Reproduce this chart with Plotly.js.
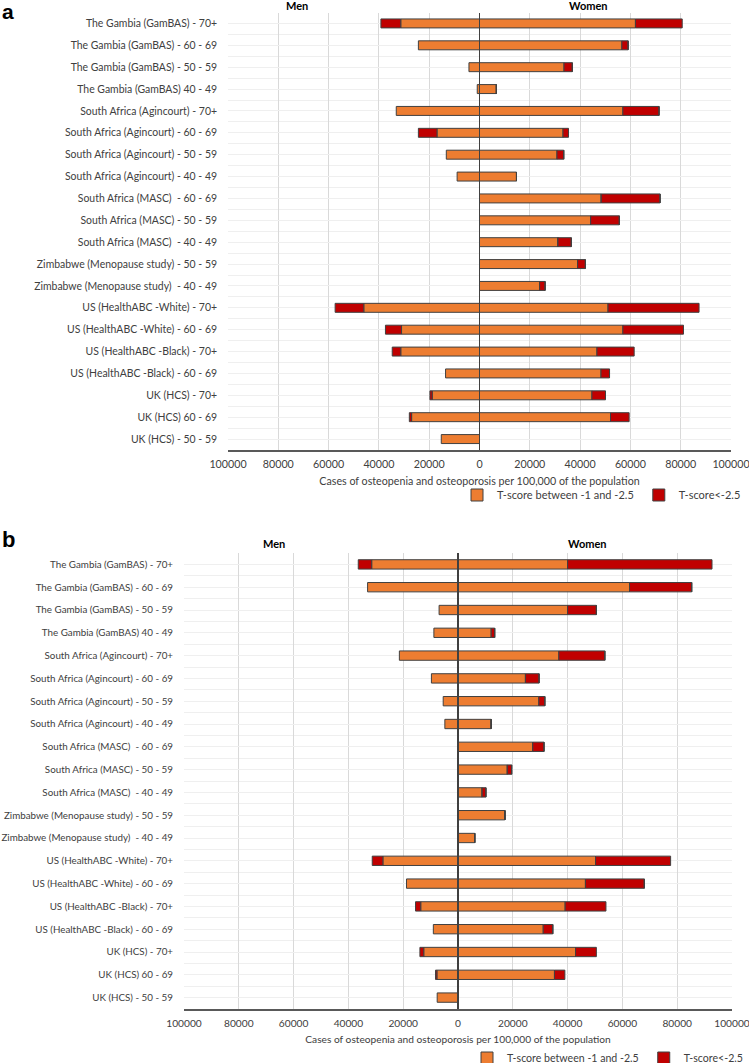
<!DOCTYPE html>
<html>
<head>
<meta charset="utf-8">
<script src="https://cdn.plot.ly/plotly-3.0.1.min.js"></script>
<style>html,body{margin:0;padding:0;background:#fff;}#chart{width:749px;height:1063px;}</style>
</head>
<body>
<div id="chart"></div>
<script>
// Categories (top to bottom)
const categories = [
  "The Gambia (GamBAS) - 70+",
  "The Gambia (GamBAS) - 60 - 69",
  "The Gambia (GamBAS) - 50 - 59",
  "The Gambia (GamBAS) 40 - 49",
  "South Africa (Agincourt) - 70+",
  "South Africa (Agincourt) - 60 - 69",
  "South Africa (Agincourt) - 50 - 59",
  "South Africa (Agincourt) - 40 - 49",
  "South Africa (MASC)  - 60 - 69",
  "South Africa (MASC) - 50 - 59",
  "South Africa (MASC)  - 40 - 49",
  "Zimbabwe (Menopause study) - 50 - 59",
  "Zimbabwe (Menopause study)  - 40 - 49",
  "US (HealthABC -White) - 70+",
  "US (HealthABC -White) - 60 - 69",
  "US (HealthABC -Black) - 70+",
  "US (HealthABC -Black) - 60 - 69",
  "UK (HCS) - 70+",
  "UK (HCS) 60 - 69",
  "UK (HCS) - 50 - 59"
];
const seriesNames = ["T-score between -1 and -2.5", "T-score<-2.5"];
const xTickValues = [-100000, -80000, -60000, -40000, -20000, 0, 20000, 40000, 60000, 80000, 100000];
const xTickLabels = ["100000", "80000", "60000", "40000", "20000", "0", "20000", "40000", "60000", "80000", "100000"];

// Panel a: cases per 100,000
const a_menOsteopenia   = [31300, 24300, 4200, 900, 33100, 16900, 13200, 8900, 0, 0, 0, 0, 0, 46000, 31000, 31300, 13500, 18800, 27000, 15200];
const a_menOsteoporosis = [7900, 0, 0, 0, 0, 7400, 0, 0, 0, 0, 0, 0, 0, 11400, 6400, 3400, 0, 900, 900, 0];
const a_womenOsteopenia   = [62000, 56600, 33600, 6700, 57000, 33200, 30800, 14700, 48400, 44200, 31200, 39000, 23900, 51100, 57000, 46700, 48300, 44700, 52100, 0];
const a_womenOsteoporosis = [18600, 2500, 3300, 0, 14400, 2200, 2700, 0, 23400, 11400, 5300, 3100, 2200, 36200, 24100, 14800, 3400, 5400, 7400, 0];

// Panel b: cases per 100,000
const b_menOsteopenia   = [31500, 33000, 6900, 8800, 21400, 9700, 5400, 4800, 0, 0, 0, 0, 0, 27400, 18800, 13600, 9000, 12500, 7700, 7600];
const b_menOsteoporosis = [4900, 0, 0, 0, 0, 0, 0, 0, 0, 0, 0, 0, 0, 3900, 0, 1900, 0, 1400, 500, 0];
const b_womenOsteopenia   = [40000, 62600, 40000, 12100, 36800, 24600, 29500, 12100, 27300, 18000, 8800, 17100, 6100, 50200, 46500, 39100, 31100, 42900, 35200, 0];
const b_womenOsteoporosis = [52700, 22700, 10500, 1300, 16800, 5000, 2200, 0, 4100, 1600, 1400, 0, 0, 27400, 21500, 14900, 3500, 7600, 3800, 0];

const yIdx = categories.map((c, i) => i);
const neg = arr => arr.map(v => -v);

const ORANGE = '#ED7D31', RED = '#C00000', OUTLINE = '#404040';
const FONT = 'Lato, "Open Sans", sans-serif';

function mk(x, name, color, xa, ya, legend, show) {
  return {
    type: 'bar', orientation: 'h', x: x, y: yIdx, name: name,
    xaxis: xa, yaxis: ya, legend: legend, showlegend: show,
    width: 0.41,
    marker: {color: color, line: {color: OUTLINE, width: 1}},
    hovertemplate: '%{y}: %{x}<extra>' + name + '</extra>'
  };
}

const traces = [
  mk(a_womenOsteopenia, seriesNames[0], ORANGE, 'x', 'y', 'legend', true),
  mk(neg(a_menOsteopenia), seriesNames[0], ORANGE, 'x', 'y', 'legend', false),
  mk(a_womenOsteoporosis, seriesNames[1], RED, 'x', 'y', 'legend', true),
  mk(neg(a_menOsteoporosis), seriesNames[1], RED, 'x', 'y', 'legend', false),
  mk(b_womenOsteopenia, seriesNames[0], ORANGE, 'x2', 'y2', 'legend2', true),
  mk(neg(b_menOsteopenia), seriesNames[0], ORANGE, 'x2', 'y2', 'legend2', false),
  mk(b_womenOsteoporosis, seriesNames[1], RED, 'x2', 'y2', 'legend2', true),
  mk(neg(b_menOsteoporosis), seriesNames[1], RED, 'x2', 'y2', 'legend2', false)
];

const W = 749, H = 1063;
function xaxis(domain, anchor, fs) {
  return {
    domain: domain, anchor: anchor, range: [-100000, 100000],
    tickmode: 'array', tickvals: xTickValues, ticktext: xTickLabels,
    showgrid: true, gridcolor: '#d9d9d9', gridwidth: 1,
    zeroline: true, zerolinecolor: '#404040', zerolinewidth: 1.5, zerolinelayer: 'above traces',
    showline: true, linecolor: '#595959', linewidth: 1.5, mirror: false,
    ticks: '', ticklabelstandoff: 4, ticklabeloverflow: 'allow', automargin: false,
    tickfont: {family: FONT, size: fs, color: '#404040'},
    title: {text: 'Cases of osteopenia and osteoporosis per 100,000 of the population',
            font: {family: FONT, size: fs, color: '#404040'}, standoff: 8},
    fixedrange: true
  };
}
function yaxis(domain, anchor, fs) {
  return {
    domain: domain, anchor: anchor, range: [19.5, -0.5],
    tickmode: 'array', tickvals: yIdx, ticktext: categories,
    showgrid: true, gridcolor: '#efefef', gridwidth: 1,
    minor: {showgrid: true, tick0: 0.5, dtick: 1, gridcolor: '#efefef', gridwidth: 1},
    zeroline: false, showline: false, ticks: '',
    ticklabelstandoff: 10, ticklabeloverflow: 'allow', automargin: false,
    tickfont: {family: FONT, size: fs, color: '#404040'},
    fixedrange: true
  };
}

const layout = {
  width: W, height: H,
  margin: {l: 0, r: 0, t: 0, b: 0, autoexpand: false},
  paper_bgcolor: '#fff', plot_bgcolor: '#fff',
  barmode: 'relative',
  font: {family: FONT, size: 10.4, color: '#404040'},
  xaxis: xaxis([228 / W, 731 / W], 'y', 10.7),
  yaxis: yaxis([1 - 450 / H, 1 - 12.5 / H], 'x', 10.45),
  xaxis2: xaxis([184 / W, 732 / W], 'y2', 10.2),
  yaxis2: yaxis([1 - 1009 / H, 1 - 553 / H], 'x2', 9.8),
  legend: {orientation: 'h', x: 746 / W, xanchor: 'right', y: 1 - 495 / H, yanchor: 'middle',
           font: {family: FONT, size: 11, color: '#404040'}, bgcolor: 'rgba(0,0,0,0)',
           itemwidth: 30, tracegroupgap: 0, traceorder: 'normal'},
  legend2: {orientation: 'h', x: 748 / W, xanchor: 'right', y: 1 - 1058 / H, yanchor: 'middle',
           font: {family: FONT, size: 10.6, color: '#404040'}, bgcolor: 'rgba(0,0,0,0)',
           itemwidth: 30, tracegroupgap: 0, traceorder: 'normal'},
  annotations: [
    {text: '<b>a</b>', x: 8 / W, y: 1 - 11.5 / H, xref: 'paper', yref: 'paper', showarrow: false,
     xanchor: 'center', yanchor: 'middle',
     font: {family: 'Liberation Sans, Arial, sans-serif', size: 21, color: '#000'}},
    {text: '<b>b</b>', x: 8 / W, y: 1 - 539 / H, xref: 'paper', yref: 'paper', showarrow: false,
     xanchor: 'center', yanchor: 'middle',
     font: {family: 'Liberation Sans, Arial, sans-serif', size: 22, color: '#000'}},
    {text: '<b>Men</b>', x: 297 / W, y: 1 - 6 / H, xref: 'paper', yref: 'paper', showarrow: false,
     xanchor: 'center', yanchor: 'middle',
     font: {family: FONT, size: 11, color: '#000'}},
    {text: '<b>Women</b>', x: 588 / W, y: 1 - 6 / H, xref: 'paper', yref: 'paper', showarrow: false,
     xanchor: 'center', yanchor: 'middle',
     font: {family: FONT, size: 11, color: '#000'}},
    {text: '<b>Men</b>', x: 274 / W, y: 1 - 543 / H, xref: 'paper', yref: 'paper', showarrow: false,
     xanchor: 'center', yanchor: 'middle',
     font: {family: FONT, size: 11, color: '#000'}},
    {text: '<b>Women</b>', x: 587 / W, y: 1 - 543 / H, xref: 'paper', yref: 'paper', showarrow: false,
     xanchor: 'center', yanchor: 'middle',
     font: {family: FONT, size: 11, color: '#000'}}
  ]
};

Plotly.newPlot('chart', traces, layout, {displayModeBar: false, staticPlot: true});
</script>
</body>
</html>
